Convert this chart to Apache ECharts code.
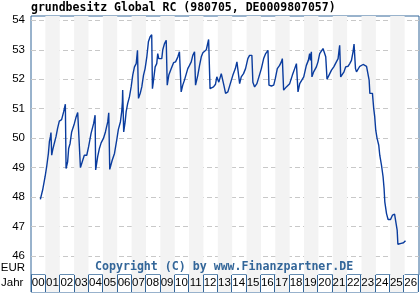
<!DOCTYPE html>
<html><head><meta charset="utf-8">
<script src="https://cdn.jsdelivr.net/npm/echarts@6/dist/echarts.min.js"></script>
<style>html,body{margin:0;padding:0;background:#fff}#c{width:420px;height:300px}</style>
</head><body><div id="c"></div>
<script>
var titleText = 'grundbesitz Global RC (980705, DE0009807057)';
var copyrightText = 'Copyright (C) by www.Finanzpartner.DE';
var yearLabels = ['00','01','02','03','04','05','06','07','08','09','10','11','12','13','14','15','16','17','18','19','20','21','22','23','24','25','26'];
var yTicks = [46,47,48,49,50,51,52,53,54];
var dates = [2000.65,2000.81,2000.98,2001.09,2001.21,2001.28,2001.35,2001.39,2001.44,2001.51,2001.62,2001.74,2001.85,2001.97,2002.13,2002.27,2002.39,2002.44,2002.55,2002.62,2002.72,2002.83,2003.02,2003.14,2003.25,2003.37,2003.44,2003.60,2003.71,2003.88,2004.01,2004.18,2004.36,2004.46,2004.50,2004.64,2004.76,2004.88,2005.04,2005.18,2005.34,2005.41,2005.48,2005.65,2005.81,2005.97,2006.08,2006.22,2006.31,2006.36,2006.38,2006.45,2006.55,2006.62,2006.73,2006.85,2006.97,2007.08,2007.20,2007.32,2007.41,2007.48,2007.60,2007.71,2007.83,2007.94,2008.06,2008.17,2008.29,2008.40,2008.45,2008.54,2008.64,2008.75,2008.82,2008.89,2008.99,2009.10,2009.17,2009.29,2009.41,2009.48,2009.59,2009.76,2009.92,2010.06,2010.22,2010.33,2010.45,2010.56,2010.68,2010.80,2010.91,2011.03,2011.15,2011.26,2011.38,2011.45,2011.61,2011.73,2011.85,2011.96,2012.20,2012.36,2012.46,2012.54,2012.70,2012.84,2012.93,2013.07,2013.24,2013.35,2013.42,2013.54,2013.59,2013.70,2013.87,2014.05,2014.22,2014.33,2014.40,2014.52,2014.63,2014.79,2014.93,2015.09,2015.21,2015.37,2015.44,2015.56,2015.72,2015.86,2016.03,2016.19,2016.33,2016.49,2016.56,2016.73,2016.89,2017.00,2017.14,2017.30,2017.42,2017.49,2017.58,2017.77,2018.00,2018.19,2018.35,2018.47,2018.58,2018.70,2018.82,2018.98,2019.16,2019.30,2019.39,2019.44,2019.51,2019.55,2019.67,2019.86,2019.97,2020.09,2020.21,2020.32,2020.44,2020.51,2020.60,2020.74,2020.91,2021.07,2021.25,2021.37,2021.44,2021.48,2021.55,2021.67,2021.78,2021.90,2022.06,2022.18,2022.30,2022.41,2022.48,2022.58,2022.65,2022.76,2022.88,2023.00,2023.11,2023.18,2023.35,2023.46,2023.53,2023.58,2023.69,2023.76,2023.85,2023.92,2023.99,2024.08,2024.20,2024.27,2024.39,2024.50,2024.57,2024.62,2024.74,2024.85,2025.02,2025.16,2025.30,2025.42,2025.48,2025.53,2025.76,2025.92,2026.06];
var prices = [47.92,48.24,48.69,49.03,49.48,49.88,50.05,50.19,49.42,49.6,49.82,50.05,50.33,50.58,50.63,50.89,51.15,48.97,49.2,49.65,49.82,50.21,50.5,50.72,50.87,50.84,49.0,49.25,49.42,49.42,49.71,50.16,50.5,50.78,48.92,49.37,49.65,49.84,49.99,50.21,50.55,50.86,48.94,49.25,49.48,49.95,50.3,50.55,50.89,51.23,51.63,50.21,50.55,50.89,51.18,51.4,51.74,52.14,52.42,52.53,52.98,51.35,51.52,51.74,52.14,52.36,52.76,53.27,53.44,53.51,51.68,52.02,52.42,52.53,52.87,52.7,52.76,52.7,53.0,53.21,53.32,51.8,52.14,52.36,52.56,52.59,52.76,52.93,51.57,51.8,51.97,52.02,52.36,52.47,52.59,52.81,52.93,51.8,52.14,52.47,52.76,52.9,53.0,53.35,51.68,51.63,51.74,51.83,52.08,51.9,52.19,52.25,51.8,51.52,51.46,51.57,51.85,52.14,52.36,52.59,52.61,51.85,52.08,52.19,52.36,52.7,52.81,52.81,51.9,51.74,51.85,52.08,52.36,52.7,52.87,52.98,51.8,51.77,51.8,52.02,52.36,52.47,52.59,52.7,51.63,51.74,51.85,52.14,52.36,52.53,51.57,51.85,51.8,52.08,52.47,52.64,52.87,52.64,52.93,52.08,52.25,52.42,52.59,52.87,52.93,53.04,53.1,52.76,52.0,52.14,52.31,52.42,52.59,52.7,53.0,53.15,52.08,52.08,52.25,52.42,52.44,52.53,52.64,52.93,53.19,52.36,52.25,52.3,52.44,52.47,52.5,52.44,52.44,52.42,51.97,51.52,51.57,51.52,51.0,50.72,50.27,50.0,49.76,49.42,49.08,48.69,48.29,47.84,47.44,47.24,47.24,47.39,47.42,47.39,46.88,46.4,46.43,46.45,46.52];

var n = Math.min(dates.length, prices.length);
var seriesData = [];
for (var i = 0; i < n; i++) seriesData.push([dates[i], prices[i]]);

var BLUE = '#336699';
var chart = echarts.init(document.getElementById('c'), null, {renderer: 'canvas'});
chart.setOption({
  animation: false,
  backgroundColor: '#fff',
  title: {
    text: titleText, left: 31, top: 2, padding: 0,
    textStyle: {fontFamily: 'DejaVu Sans Mono', fontWeight: 'bold', fontSize: 11.5, color: '#000'}
  },
  grid: [
    {left: 31, right: 1, top: 16, bottom: 25, show: true, borderColor: BLUE, borderWidth: 1, backgroundColor: 'transparent'},
    {left: 31, right: 1, top: 275, height: 17, show: true, borderColor: BLUE, borderWidth: 1, backgroundColor: 'transparent'}
  ],
  xAxis: [
    {type: 'value', gridIndex: 0, min: 2000, max: 2027, interval: 1,
     axisLine: {show: false}, axisTick: {show: false}, axisLabel: {show: false},
     splitLine: {show: false},
     splitArea: {show: true, areaStyle: {color: ['rgba(255,255,255,0)', '#f3f3f3']}}},
    {type: 'category', gridIndex: 1, data: yearLabels, boundaryGap: true,
     axisLine: {show: false}, axisTick: {show: false},
     axisLabel: {inside: true, margin: 3, interval: 0, fontFamily: 'Liberation Sans', fontSize: 11.5, color: '#000'},
     splitLine: {show: true, interval: 0, lineStyle: {color: BLUE, width: 1}},
     splitArea: {show: true, interval: 0, areaStyle: {color: ['#ffffff', '#f3f3f3']}}}
  ],
  yAxis: [
    {type: 'value', gridIndex: 0, min: 45.355, max: 54.146,
     axisLine: {show: false},
     axisTick: {show: false, customValues: yTicks},
     axisLabel: {customValues: yTicks, margin: 6, fontFamily: 'Liberation Sans', fontSize: 11.5, color: '#000'},
     splitLine: {show: true, lineStyle: {color: '#c8c8c8', type: [5, 3], width: 1}}},
    {type: 'value', gridIndex: 1, min: 0, max: 1, show: false}
  ],
  series: [{
    type: 'line', xAxisIndex: 0, yAxisIndex: 0, data: seriesData,
    showSymbol: false, symbol: 'none', z: 5,
    lineStyle: {color: '#0a3c9e', width: 1.4}
  }],
  graphic: [
    {type: 'text', z: 100, left: 224 - 129, top: 261, style: {text: copyrightText, fill: BLUE, font: 'bold 11.6px "DejaVu Sans Mono"'}},
    {type: 'text', z: 100, right: 420 - 25, top: 262, style: {text: 'EUR', fill: '#000', font: '11.5px "Liberation Sans"', align: 'right'}},
    {type: 'text', z: 100, left: 1, top: 277, style: {text: 'Jahr', fill: '#000', font: '11.5px "Liberation Sans"'}}
  ]
});
</script></body></html>
